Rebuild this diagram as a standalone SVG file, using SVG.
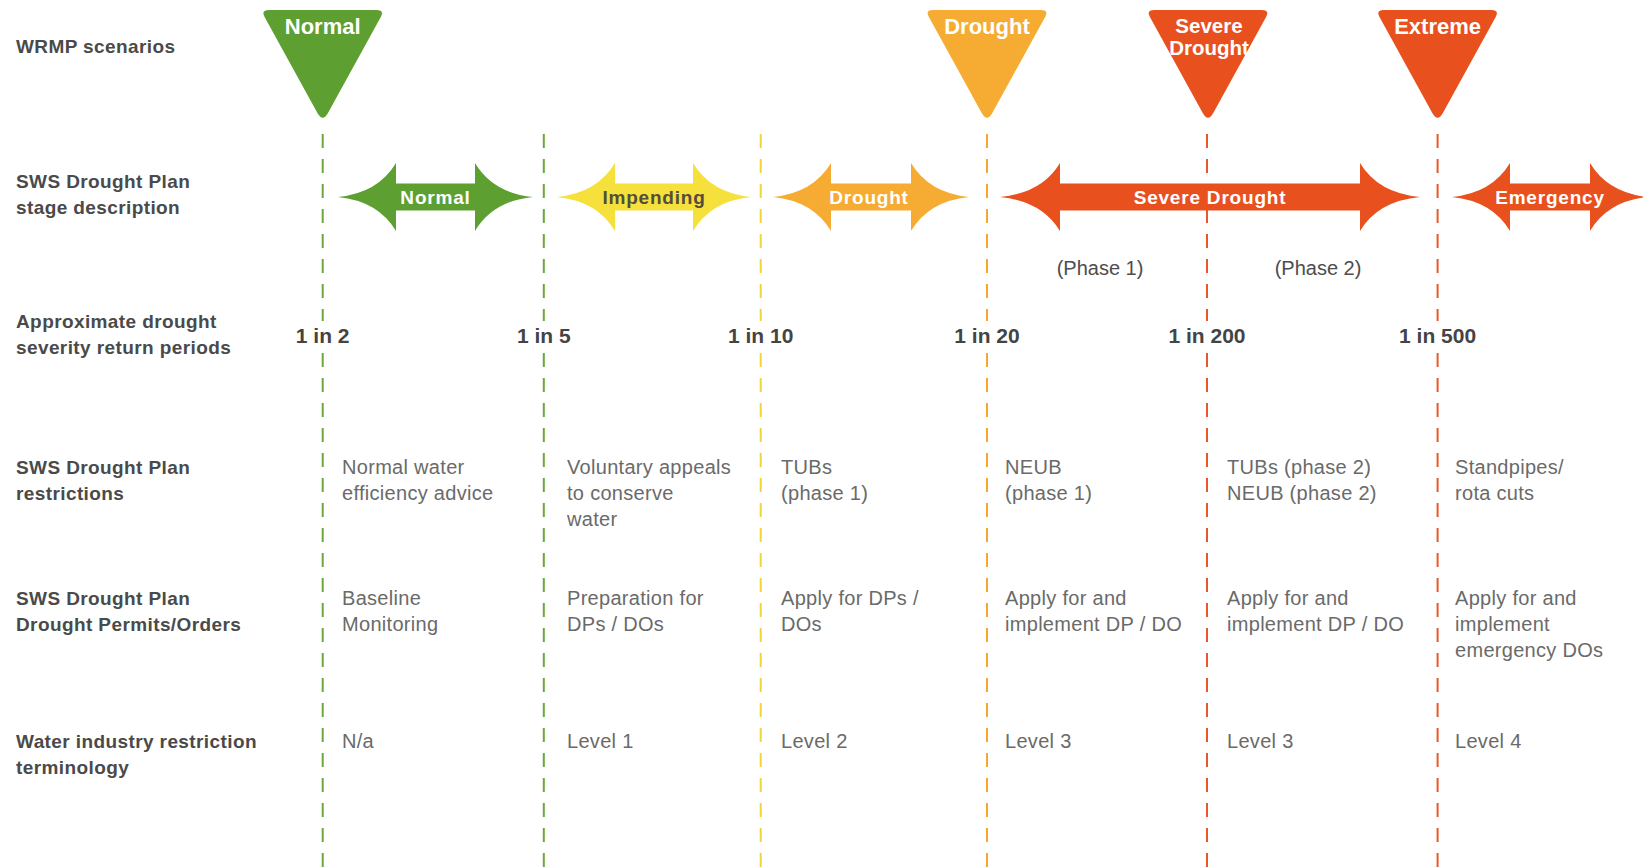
<svg xmlns="http://www.w3.org/2000/svg" width="1643" height="868" viewBox="0 0 1643 868">
<style>
.lbl{font-family:"Liberation Sans",Arial,sans-serif;font-weight:bold;font-size:19px;letter-spacing:0.4px;fill:#4a4a4a}
.body{font-family:"Liberation Sans",Arial,sans-serif;font-size:20px;letter-spacing:0.3px;fill:#6a6a6a}
.num{font-family:"Liberation Sans",Arial,sans-serif;font-weight:bold;font-size:21px;fill:#444;text-anchor:middle}
.phase{font-family:"Liberation Sans",Arial,sans-serif;font-size:20px;fill:#4d4d4d;text-anchor:middle}
.tri{font-family:"Liberation Sans",Arial,sans-serif;font-weight:bold;font-size:22px;fill:#fff;text-anchor:middle}
.arr{font-family:"Liberation Sans",Arial,sans-serif;font-weight:bold;font-size:19px;letter-spacing:0.8px;fill:#fff;text-anchor:middle}
.dl{fill:none;stroke-width:2;stroke-dasharray:14 11}
.green{fill:#5e9f32}.yellow{fill:#f5e03c}.orange{fill:#f6ac32}.red{fill:#e8501e}
</style>
<defs>
<path id="triShape" d="M-54,10 L54,10 Q62,10 58.1,17 L5,113.5 Q0,122 -5,113.5 L-58.1,17 Q-62,10 -54,10Z"/>
</defs>
<rect width="1643" height="868" fill="#fff"/>

<g id="connectors">
<g class="dl" stroke="#6aa83c">
<path d="M322.7,134V321M322.7,353V868"/>
<path d="M543.8,134V321M543.8,353V868"/>
</g>
<path class="dl" stroke="#f2d43a" d="M760.7,134V321M760.7,353V868"/>
<path class="dl" stroke="#f4a92c" d="M987,134V321M987,353V868"/>
<path class="dl" stroke="#e8582a" d="M1207,134V321M1207,353V868"/>
<path class="dl" stroke="#e8582a" d="M1437.6,134V321M1437.6,353V868"/>
</g>

<g id="row-labels">
<text class="lbl" x="16" y="53">WRMP scenarios</text>
<text class="lbl" x="16" y="188">SWS Drought Plan</text>
<text class="lbl" x="16" y="214">stage description</text>
<text class="lbl" x="16" y="328">Approximate drought</text>
<text class="lbl" x="16" y="354">severity return periods</text>
<text class="lbl" x="16" y="474">SWS Drought Plan</text>
<text class="lbl" x="16" y="500">restrictions</text>
<text class="lbl" x="16" y="605">SWS Drought Plan</text>
<text class="lbl" x="16" y="631">Drought Permits/Orders</text>
<text class="lbl" x="16" y="748">Water industry restriction</text>
<text class="lbl" x="16" y="774">terminology</text>
</g>

<g id="scenario-normal"><use href="#triShape" class="green" transform="translate(322.7,0)"/><text class="tri" x="322.7" y="34">Normal</text></g>
<g id="scenario-drought"><use href="#triShape" class="orange" transform="translate(987,0)"/><text class="tri" x="987" y="34">Drought</text></g>
<g id="scenario-severe"><use href="#triShape" class="red" transform="translate(1208,0)"/><text class="tri" x="1209" y="33" style="font-size:20.5px">Severe</text><text class="tri" x="1209" y="55" style="font-size:20.5px">Drought</text></g>
<g id="scenario-extreme"><use href="#triShape" class="red" transform="translate(1437.6,0)"/><text class="tri" x="1437.6" y="34">Extreme</text></g>

<g id="stage-normal"><path class="green" d="M338,197 Q378,193 396,163 L396,183.5 L475,183.5 L475,163 Q493,193 533,197 Q493,201 475,231 L475,210.5 L396,210.5 L396,231 Q378,201 338,197Z"/><text class="arr" x="435.5" y="203.5">Normal</text></g>
<g id="stage-impending"><path class="yellow" d="M557,197 Q597,193 615,163 L615,183.5 L693,183.5 L693,163 Q711,193 751,197 Q711,201 693,231 L693,210.5 L615,210.5 L615,231 Q597,201 557,197Z"/><text class="arr" x="654" y="203.5" style="fill:#554c3a">Impending</text></g>
<g id="stage-drought"><path class="orange" d="M773,197 Q813,193 831,163 L831,183.5 L911,183.5 L911,163 Q929,193 969,197 Q929,201 911,231 L911,210.5 L831,210.5 L831,231 Q813,201 773,197Z"/><text class="arr" x="869" y="203.5">Drought</text></g>
<g id="stage-severe"><path class="red" d="M1000,197 Q1042,193 1060,163 L1060,183.5 L1360,183.5 L1360,163 Q1378,193 1420,197 Q1378,201 1360,231 L1360,210.5 L1060,210.5 L1060,231 Q1042,201 1000,197Z"/><text class="arr" x="1210" y="203.5">Severe Drought</text></g>
<g id="stage-emergency"><path class="red" d="M1452,197 Q1492,193 1510,163 L1510,183.5 L1590,183.5 L1590,163 Q1608,193 1648,197 Q1608,201 1590,231 L1590,210.5 L1510,210.5 L1510,231 Q1492,201 1452,197Z"/><text class="arr" x="1550" y="203.5">Emergency</text></g>

<g id="phases">
<text class="phase" x="1100" y="275">(Phase 1)</text>
<text class="phase" x="1318" y="275">(Phase 2)</text>
</g>

<g id="return-periods">
<text class="num" x="322.7" y="343">1 in 2</text>
<text class="num" x="543.8" y="343">1 in 5</text>
<text class="num" x="760.7" y="343">1 in 10</text>
<text class="num" x="987" y="343">1 in 20</text>
<text class="num" x="1207" y="343">1 in 200</text>
<text class="num" x="1437.6" y="343">1 in 500</text>
</g>

<g id="restrictions">
<text class="body" x="342" y="474">Normal water</text>
<text class="body" x="342" y="500">efficiency advice</text>
<text class="body" x="567" y="474">Voluntary appeals</text>
<text class="body" x="567" y="500">to conserve</text>
<text class="body" x="567" y="526">water</text>
<text class="body" x="781" y="474">TUBs</text>
<text class="body" x="781" y="500">(phase 1)</text>
<text class="body" x="1005" y="474">NEUB</text>
<text class="body" x="1005" y="500">(phase 1)</text>
<text class="body" x="1227" y="474">TUBs (phase 2)</text>
<text class="body" x="1227" y="500">NEUB (phase 2)</text>
<text class="body" x="1455" y="474">Standpipes/</text>
<text class="body" x="1455" y="500">rota cuts</text>
</g>

<g id="permits">
<text class="body" x="342" y="605">Baseline</text>
<text class="body" x="342" y="631">Monitoring</text>
<text class="body" x="567" y="605">Preparation for</text>
<text class="body" x="567" y="631">DPs / DOs</text>
<text class="body" x="781" y="605">Apply for DPs /</text>
<text class="body" x="781" y="631">DOs</text>
<text class="body" x="1005" y="605">Apply for and</text>
<text class="body" x="1005" y="631">implement DP / DO</text>
<text class="body" x="1227" y="605">Apply for and</text>
<text class="body" x="1227" y="631">implement DP / DO</text>
<text class="body" x="1455" y="605">Apply for and</text>
<text class="body" x="1455" y="631">implement</text>
<text class="body" x="1455" y="657">emergency DOs</text>
</g>

<g id="terminology">
<text class="body" x="342" y="748">N/a</text>
<text class="body" x="567" y="748">Level 1</text>
<text class="body" x="781" y="748">Level 2</text>
<text class="body" x="1005" y="748">Level 3</text>
<text class="body" x="1227" y="748">Level 3</text>
<text class="body" x="1455" y="748">Level 4</text>
</g>
</svg>
